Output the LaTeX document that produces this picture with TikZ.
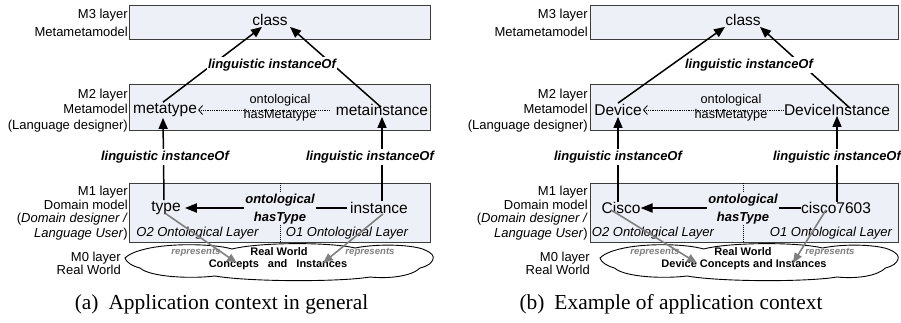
\documentclass[tikz,border=0pt]{standalone}
\usepackage{fontspec}
\setmainfont{Liberation Sans}
\newfontfamily\capfont{Liberation Serif}
\usetikzlibrary{arrows.meta}

\definecolor{layerfill}{RGB}{238,240,248}
\definecolor{layerdraw}{RGB}{60,60,60}
\definecolor{repgray}{RGB}{128,128,128}

% outline of the "real world" cloud, in the coordinates of the left panel
\newcommand{\worldcloud}{(125,258) .. controls (130,253) and (140,250) .. (150,248)
  .. controls (175,243) and (215,244) .. (232,249)
  .. controls (260,242) and (330,242) .. (355,248)
  .. controls (380,243) and (415,245) .. (425,250)
  .. controls (432,253) and (434,256) .. (433,259)
  .. controls (432,263) and (428,266) .. (420,268)
  .. controls (412,276) and (390,279) .. (370,277)
  .. controls (340,282) and (250,282) .. (215,276)
  .. controls (190,279) and (150,277) .. (140,268)
  .. controls (132,266) and (126,262) .. (125,258) -- cycle}

\tikzset{
  layer/.style={draw=layerdraw, fill=layerfill, line width=1pt, anchor=north west, inner sep=0pt},
  lbl/.style={font=\fontsize{13}{15}\selectfont, anchor=base east, inner sep=0pt},
  obj/.style={font=\fontsize{15.5}{18}\selectfont, inner sep=1pt},
  ling/.style={font=\fontsize{13}{15}\selectfont\bfseries\itshape, fill=white, inner sep=1.5pt},
  onto/.style={font=\fontsize{12.7}{15}\selectfont, align=center, inner sep=0pt},
  ontob/.style={font=\fontsize{13}{18}\selectfont\bfseries\itshape, align=center, fill=layerfill, inner sep=1pt},
  olayer/.style={font=\fontsize{13}{15}\selectfont\itshape, inner sep=0pt},
  world/.style={font=\fontsize{11}{12}\selectfont\bfseries, inner sep=0pt},
  repr/.style={font=\fontsize{9.6}{11}\selectfont\bfseries\itshape, text=repgray, inner sep=0pt},
  subcap/.style={font=\capfont\fontsize{21.4}{24}\selectfont, inner sep=0pt, anchor=base},
  linarrow/.style={line width=1.5pt, -{Triangle[length=11pt,width=9pt]}},
  hasarrow/.style={line width=2pt, -{Triangle[length=12pt,width=9pt]}},
  metaarrow/.style={line width=0.8pt, densely dotted, -{Straight Barb[length=4pt,width=9pt,line width=0.8pt]}},
  separator/.style={line width=1pt, densely dotted},
  reparrow/.style={draw=repgray, line width=1.6pt, -{Triangle[length=10pt,width=8pt]}},
}

\begin{document}
\begin{tikzpicture}[x=1pt, y=-1pt]
\useasboundingbox (0,0) rectangle (901,322);

% ---------------- layer boxes ----------------
\node[layer, minimum width=301pt, minimum height=34pt] (m3a) at (129,5) {};
\node[layer, minimum width=301pt, minimum height=46pt] (m2a) at (129,84) {};
\node[layer, minimum width=301pt, minimum height=59pt] (m1a) at (129,183) {};
\node[layer, minimum width=308pt, minimum height=34pt] (m3b) at (590,5) {};
\node[layer, minimum width=308pt, minimum height=46pt] (m2b) at (590,84) {};
\node[layer, minimum width=308pt, minimum height=59pt] (m1b) at (590,183) {};

% separators between the two ontological layers
\draw[separator] (m1a.north west -| 280,0) -- (m1a.south west -| 280,0);
\draw[separator] (m1b.north west -| 743,0) -- (m1b.south west -| 743,0);

% ---------------- clouds ----------------
\draw[line width=0.9pt, fill=white] \worldcloud;
\begin{scope}[shift={(600,0)}, xscale=0.9675, shift={(-125,0)}]
  \draw[line width=0.9pt, fill=white] \worldcloud;
\end{scope}

% ---------------- layer captions on the left ----------------
\node[lbl] (a3l1) at (128,18.7) {M3 layer};
\node[lbl] (a3l2) at (128,36.7) {Metametamodel};
\node[lbl] (a2l1) at (128,98.7) {M2 layer};
\node[lbl] (a2l2) at (128,113.7) {Metamodel};
\node[lbl] (a2l3) at (128,129.7) {(Language designer)};
\node[lbl] (a1l1) at (128,195.7) {M1 layer};
\node[lbl] (a1l2) at (128,209.7) {Domain model};
\node[lbl] (a1l3) at (128,222.7) {(\textit{Domain designer /}};
\node[lbl] (a1l4) at (128,237.7) {\textit{Language User})};
\node[lbl] (a0l1) at (121,261.7) {M0 layer};
\node[lbl] (a0l2) at (121,274.7) {Real World};

\node[lbl] (b3l1) at (588,18.7) {M3 layer};
\node[lbl] (b3l2) at (588,36.7) {Metametamodel};
\node[lbl] (b2l1) at (588,98.7) {M2 layer};
\node[lbl] (b2l2) at (588,113.7) {Metamodel};
\node[lbl] (b2l3) at (588,129.7) {(Language designer)};
\node[lbl] (b1l1) at (588,195.7) {M1 layer};
\node[lbl] (b1l2) at (588,209.7) {Domain model};
\node[lbl] (b1l3) at (588,222.7) {(\textit{Domain designer /}};
\node[lbl] (b1l4) at (588,237.7) {\textit{Language User})};
\node[lbl] (b0l1) at (590,261.7) {M0 layer};
\node[lbl] (b0l2) at (590,274.7) {Real World};

% ---------------- model elements ----------------
\node[obj] (cla) at (270,20) {class};
\node[obj] (mta) at (165,110) {metatype};
\node[obj] (mia) at (382,110) {metainstance};
\node[obj] (typ) at (166,208) {type};
\node[obj] (ins) at (379,208) {instance};

\node[obj] (clb) at (743,20) {class};
\node[obj] (dev) at (618,110) {Device};
\node[obj, inner sep=0pt] (dvi) at (837,110) {DeviceInstance};
\node[obj, inner sep=0pt] (cis) at (621,208) {Cisco};
\node[obj, inner sep=0pt] (c76) at (836,208) {cisco7603};

% ---------------- linguistic instanceOf ----------------
\draw[linarrow] ([xshift=-2pt]mta.north) -- ([xshift=-8pt]cla.south);
\draw[linarrow] ([xshift=-1pt,yshift=-4pt]mia.north) -- ([xshift=20pt]cla.south);
\draw[linarrow] ([xshift=-2pt]typ.north) -- ([xshift=-2pt]mta.south);
\draw[linarrow] ([xshift=3pt]ins.north) -- (mia.south);
\node[ling] (la3) at (272,65) {linguistic instanceOf};
\node[ling] (la2l) at (165,157) {linguistic instanceOf};
\node[ling] (la2r) at (370,157) {linguistic instanceOf};

\draw[linarrow] (dev.north) -- ([xshift=-18pt]clb.south);
\draw[linarrow] ([xshift=13pt,yshift=-4pt]dvi.north) -- ([xshift=17pt]clb.south);
\draw[linarrow] ([xshift=-3pt]cis.north) -- (dev.south);
\draw[linarrow] ([xshift=1pt]c76.north) -- (dvi.south);
\node[ling] (lb3) at (749,65) {linguistic instanceOf};
\node[ling] (lb2l) at (618,157) {linguistic instanceOf};
\node[ling] (lb2r) at (837,157) {linguistic instanceOf};

% ---------------- ontological hasMetatype ----------------
\draw[metaarrow] ([xshift=-5pt]mia.west) -- (mta.east);
\node[onto] (hma) at (280,108) {ontological\\hasMetatype};
\draw[metaarrow] (dvi.west) -- (dev.east);
\node[onto] (hmb) at (731,108) {ontological\\hasMetatype};

% ---------------- ontological hasType ----------------
\draw[hasarrow] ([xshift=-2pt]ins.west) -- ([xshift=3pt]typ.east);
\node[ontob] (hta) at (280,209) {ontological\\hasType};
\draw[hasarrow] (c76.west) -- (cis.east);
\node[ontob] (htb) at (743,209) {ontological\\hasType};

% ---------------- ontological layers ----------------
\node[olayer] (o2a) at (197.5,233) {O2 Ontological Layer};
\node[olayer] (o1a) at (347,233) {O1 Ontological Layer};
\node[olayer] (o2b) at (653,233) {O2 Ontological Layer};
\node[olayer] (o1b) at (831,233) {O1 Ontological Layer};

% ---------------- real world ----------------
\node[world] (rwa) at (279,252) {Real World};
\node[world] (cia) at (278,265) {Concepts\hspace{9pt}and\hspace{9pt}Instances};
\node[world] (rwb) at (743,252) {Real World};
\node[world] (cib) at (744,265) {Device Concepts and Instances};

\node[repr] (rpa1) at (196,252) {represents};
\node[repr] (rpa2) at (370,252) {represents};
\node[repr] (rpb1) at (655,252) {represents};
\node[repr] (rpb2) at (830,252) {represents};

\coordinate (ta1) at (237,263);
\coordinate (ta2) at (323,263);
\coordinate (tb1) at (697,263);
\coordinate (tb2) at (793,263);
\draw[reparrow] ([yshift=2pt]typ.south) -- (ta1);
\draw[reparrow] ([xshift=4pt,yshift=1pt]ins.south) -- (ta2);
\draw[reparrow] ([xshift=-10pt,yshift=4pt]cis.south) -- (tb1);
\draw[reparrow] ([xshift=-10pt,yshift=4pt]c76.south) -- (tb2);

% ---------------- sub-captions ----------------
\node[subcap] (capa) at (221.5,309) {(a)\hspace{10pt}Application context in general};
\node[subcap] (capb) at (671,309) {(b)\hspace{10pt}Example of application context};
\end{tikzpicture}
\end{document}
